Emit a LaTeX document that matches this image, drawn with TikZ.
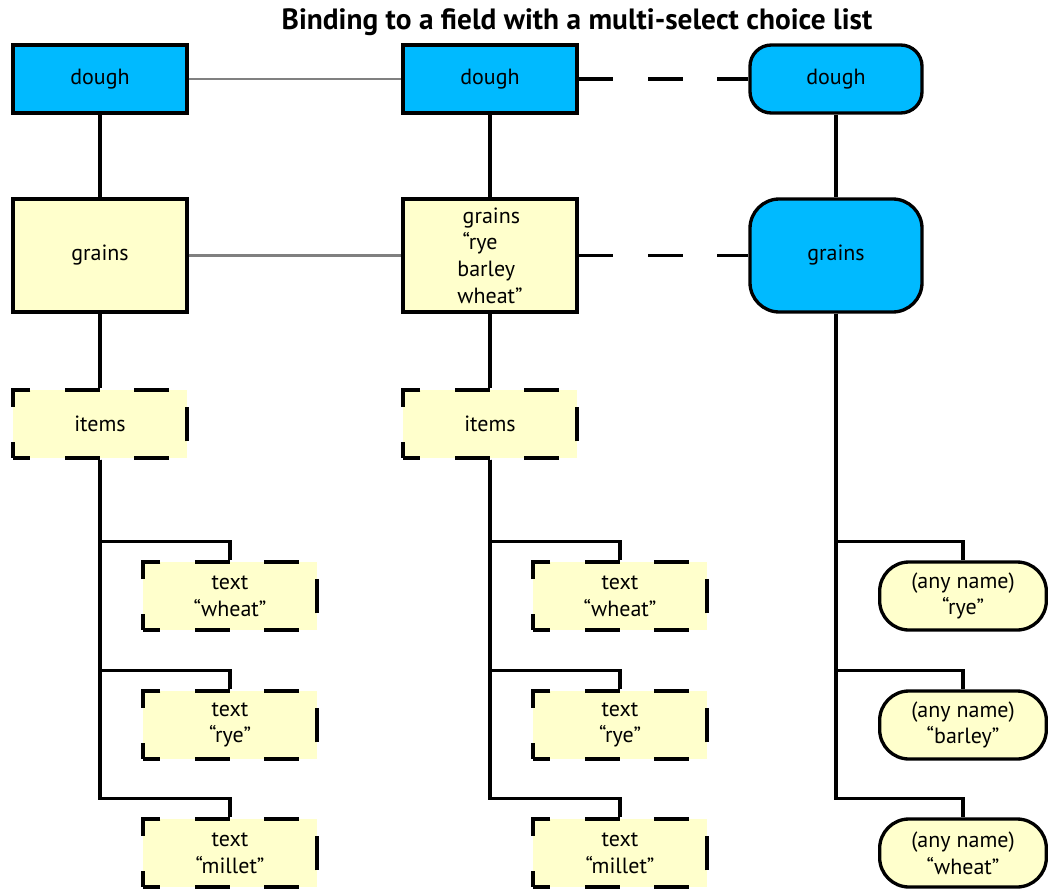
\documentclass[tikz,border=0pt]{standalone}
\usepackage{fontspec}
\setmainfont{PT Sans}
\usetikzlibrary{calc}
\definecolor{fieldblue}{RGB}{0,186,255}
\definecolor{nodeyellow}{RGB}{255,255,204}
\definecolor{bindgray}{RGB}{128,128,128}

\begin{document}
\begin{tikzpicture}[
    x=0.75pt, y=-0.75pt,
    box/.style={draw=black, line width=2.5pt, minimum width=130.5pt,
                minimum height=51pt, inner sep=2pt, align=center,
                font=\fontsize{16.5}{20}\selectfont},
    fieldbox/.style={box, fill=fieldblue},
    valuebox/.style={box, fill=nodeyellow},
    optbox/.style={valuebox, dash pattern=on 26pt off 26pt, dash phase=13pt},
    datanode/.style={box, minimum width=125pt, rounded corners=22pt, fill=nodeyellow},
    link/.style={draw=black, line width=2.5pt},
    bindline/.style={draw=bindgray, line width=2pt},
    dataline/.style={link, dash pattern=on 26pt off 26pt}
]
    \useasboundingbox (0,0) rectangle (1048,888);

    % ==================== TITLE ====================
    \node[font=\fontsize{22}{24}\selectfont\bfseries] (title) at (577,22)
        {Binding to a field with a multi-select choice list};

    % ==================== FORM TEMPLATE ====================
    \node[fieldbox] (dough1) at (100,79) {dough};
    \node[valuebox, minimum height=84.75pt] (grains1) at (100,255.5) {grains};
    \node[optbox] (items1) at (100,424) {items};
    \node[optbox] (text11) at (230,596) {text\\“wheat”};
    \node[optbox] (text12) at (230,725) {text\\“rye”};
    \node[optbox] (text13) at (230,853) {text\\“millet”};

    % ==================== FORM DOM ====================
    \node[fieldbox] (dough2) at (490,79) {dough};
    \node[valuebox, minimum height=84.75pt, align=left] (grains2) at (490,255.5)
        {\hspace{4pt}grains\\\hspace{4pt}“rye\\barley\\wheat”};
    \node[optbox] (items2) at (490,424) {items};
    \node[optbox] (text21) at (620,596) {text\\“wheat”};
    \node[optbox] (text22) at (620,725) {text\\“rye”};
    \node[optbox] (text23) at (620,853) {text\\“millet”};

    % ==================== DATA DOM ====================
    \node[fieldbox, minimum width=129pt, rounded corners=16pt] (dough3) at (836,79) {dough};
    \node[fieldbox, minimum width=129pt, minimum height=84.75pt, rounded corners=22pt]
        (grains3) at (836,255.5) {grains};
    \node[datanode] (data1) at (963,596) {(any name)\\“rye”};
    \node[datanode] (data2) at (963,725) {(any name)\\“barley”};
    \node[datanode] (data3) at (963,853) {(any name)\\“wheat”};

    % ==================== TREE LINKS ====================
    \draw[link] (dough1) -- (grains1);
    \draw[link] (grains1) -- (items1);
    \draw[link] (dough2) -- (grains2);
    \draw[link] (grains2) -- (items2);
    \draw[link] (dough3) -- (grains3);
    \foreach \t in {text11,text12,text13}
        \draw[link] (items1.south) |- ($(\t.north)+(0,-19)$) -- (\t.north);
    \foreach \t in {text21,text22,text23}
        \draw[link] (items2.south) |- ($(\t.north)+(0,-19)$) -- (\t.north);
    \foreach \t in {data1,data2,data3}
        \draw[link] (grains3.south) |- ($(\t.north)+(0,-19)$) -- (\t.north);

    % ==================== BINDINGS ====================
    \draw[bindline] (dough1) -- (dough2);
    \draw[bindline] (grains1) -- (grains2);
    \draw[dataline] (dough2) -- (dough3);
    \draw[dataline] (grains2) -- (grains3);
\end{tikzpicture}
\end{document}
